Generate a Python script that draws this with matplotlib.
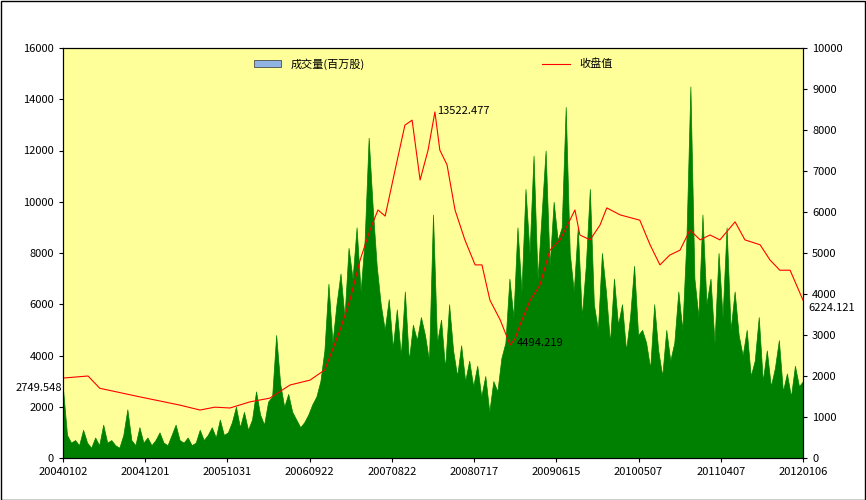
import matplotlib
matplotlib.use("Agg")
import matplotlib.pyplot as plt
from matplotlib.patches import Patch
import numpy as np

plt.rcParams['font.family'] = ['Noto Sans CJK SC', 'DejaVu Sans']

date_labels = ["20040102","20041201","20051031","20060922","20070822","20080717",
               "20090615","20100507","20110407","20120106"]
total_days = 1950

volume = [2700,900,600,700,500,1100,600,400,800,500,1300,600,700,500,400,900,1900,
          700,500,1200,600,800,500,700,1000,600,500,900,1300,700,600,800,500,600,1100,700,900,
          1200,800,1500,900,1000,1400,2000,1200,1800,1100,1500,2600,1700,1300,2200,
          2400,4800,2900,2000,2500,1800,1500,1200,1400,1700,2100,2400,
          3000,4200,6800,4500,6000,7200,5500,8200,
          7000,9000,6500,8500,12500,9800,7500,6000,
          5000,6200,4300,5800,4000,6500,3800,5200,4600,5500,
          4800,3800,9500,4500,5400,3500,6000,4200,3200,4400,3000,3800,
          2800,3600,2400,3200,1800,3000,2600,3900,
          4500,7000,5500,9000,6500,10500,8000,11800,7000,9500,12000,7500,10000,8500,9000,
          13700,8000,6500,9000,5500,7500,10500,6000,5000,8000,6500,4500,7000,5200,6000,4200,5500,7500,4800,5000,
          4500,3500,6000,4200,3200,5000,3800,4500,6500,5000,8500,14500,
          7000,5500,9500,6000,7000,4500,8000,5500,9000,5000,6500,4800,
          4000,5000,3200,3800,5500,3000,4200,2800,3500,4600,2600,3300,2400,3600,2800,3000]

close_day = [0,66,97,203,308,361,400,440,493,545,598,651,690,730,756,783,809,830,849,875,
             901,920,941,962,980,993,1012,1033,1059,1086,1104,1125,1152,1178,1191,1204,1231,
             1257,1283,1310,1349,1362,1389,1415,1433,1468,1520,1547,1573,1599,1626,1652,1679,
             1705,1731,1771,1797,1837,1863,1889,1916,1950]
close_val = [1950,2000,1700,1490,1290,1170,1240,1220,1370,1460,1780,1900,2150,3120,3850,4830,
             5560,6050,5900,7020,8120,8240,6780,7510,8440,7510,7150,6050,5320,4710,4710,3850,
             3370,2760,2900,3240,3850,4220,5070,5320,6050,5440,5320,5680,6100,5930,5800,5200,
             4710,4950,5070,5560,5320,5440,5320,5760,5320,5200,4830,4580,4580,3850]

annotations = [("13522.477", 985, 13522), ("4494.219", 1197, 4494), ("6224.121", 1965, 5850),
               ("2749.548", -125, 2749)]

fig = plt.figure(figsize=(8.66, 5.0), dpi=100)
fig.patches.append(plt.Rectangle((0.001, 0.001), 0.998, 0.997, transform=fig.transFigure,
                                 fill=False, edgecolor="black", lw=1))
ax = fig.add_axes([63/866, 42/500, 740/866, 410/500])
ax.set_facecolor("#FFFF99")
n = len(volume)
xv = np.linspace(0, total_days, n)
ax.fill_between(xv, 0, volume, color="#008000", linewidth=0.5, edgecolor="#008000")
ax.set_ylim(0, 16000)
ax.set_xlim(0, total_days)
ax.set_yticks(range(0, 16001, 2000))
ax.set_xticks(np.linspace(0, total_days, len(date_labels)))
ax.set_xticklabels(date_labels)
ax.tick_params(labelsize=8, length=3)
ax2 = ax.twinx()
line, = ax2.plot(close_day, close_val, color="#FF0000", lw=0.8)
ax2.set_ylim(0, 10000)
ax2.set_yticks(range(0, 10001, 1000))
ax2.tick_params(labelsize=8, length=3)
for t, d, v in annotations:
    ax.text(d, v, t, fontsize=8, va="center", clip_on=False)
ax.legend([Patch(facecolor="#8FB4E3", edgecolor="#333333", lw=0.5), line],
          ["成交量(百万股)", "收盘值"], loc="upper center", ncol=2, frameon=False, fontsize=8,
          columnspacing=16, handlelength=2.5, bbox_to_anchor=(0.5, 1.0))
fig.savefig("out.png", dpi=100)
